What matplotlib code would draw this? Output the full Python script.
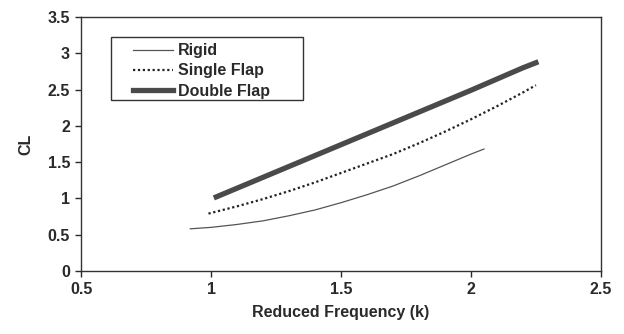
import matplotlib.pyplot as plt
from matplotlib.patches import Rectangle

plt.rcParams['font.family'] = ['Liberation Sans', 'DejaVu Sans']
plt.rcParams['font.weight'] = 'bold'
plt.rcParams['axes.labelweight'] = 'bold'

# reduced frequency k and lift coefficient CL
rigid_k = [0.92, 1.0, 1.1, 1.2, 1.3, 1.4, 1.5, 1.6, 1.7, 1.8, 1.9, 2.0, 2.05]
rigid_cl = [0.58, 0.60, 0.64, 0.69, 0.76, 0.84, 0.94, 1.05, 1.17, 1.31, 1.46, 1.61, 1.68]

single_k = [0.99, 1.1, 1.2, 1.3, 1.4, 1.5, 1.6, 1.7, 1.8, 1.9, 2.0, 2.1, 2.2, 2.25]
single_cl = [0.79, 0.89, 0.99, 1.10, 1.22, 1.35, 1.48, 1.61, 1.76, 1.92, 2.09, 2.27, 2.46, 2.56]

double_k = [1.02, 1.2, 1.4, 1.6, 1.8, 2.0, 2.2, 2.25]
double_cl = [1.02, 1.29, 1.59, 1.89, 2.19, 2.49, 2.80, 2.87]

x_ticks = [0.5, 1, 1.5, 2, 2.5]
y_ticks = [0, 0.5, 1, 1.5, 2, 2.5, 3, 3.5]

fig = plt.figure(figsize=(6.24, 3.34), dpi=100)
ax = fig.add_axes([0.130, 0.189, 0.833, 0.760])

ax.plot(rigid_k, rigid_cl, color='#555555', lw=0.9, label='Rigid')
ax.plot(single_k, single_cl, color='#222222', lw=1.6, ls=(0, (1, 1.2)), label='Single Flap')
ax.plot(double_k, double_cl, color='#4a4a4a', lw=3.8, label='Double Flap')

ax.set_xlim(0.5, 2.5)
ax.set_ylim(0, 3.5)
ax.set_xticks(x_ticks)
ax.set_xticklabels(['0.5', '1', '1.5', '2', '2.5'])
ax.set_yticks(y_ticks)
ax.set_yticklabels(['0', '0.5', '1', '1.5', '2', '2.5', '3', '3.5'])
ax.tick_params(direction='out', length=4, width=1, labelsize=11.5, colors='#2a2a2a', pad=4)
for s in ax.spines.values():
    s.set_color('#333333')
    s.set_linewidth(1)

ax.set_xlabel('Reduced Frequency (k)', fontsize=11.5, color='#2a2a2a', labelpad=6)
ax.set_ylabel('CL', fontsize=11.5, color='#2a2a2a', labelpad=10)

# legend without its own frame, the box is drawn a bit wider like the original
leg = ax.legend(loc='upper left', bbox_to_anchor=(0.100, 0.897), fontsize=11.5,
                frameon=False, handlelength=2.5, handletextpad=0.3, borderpad=0,
                labelspacing=0.33, borderaxespad=0)
for t in leg.get_texts():
    t.set_color('#2a2a2a')
ax.add_patch(Rectangle((0.058, 0.673), 0.369, 0.248, transform=ax.transAxes,
                       fill=False, edgecolor='#333333', lw=1, zorder=5))

fig.savefig('out.png', dpi=100)
